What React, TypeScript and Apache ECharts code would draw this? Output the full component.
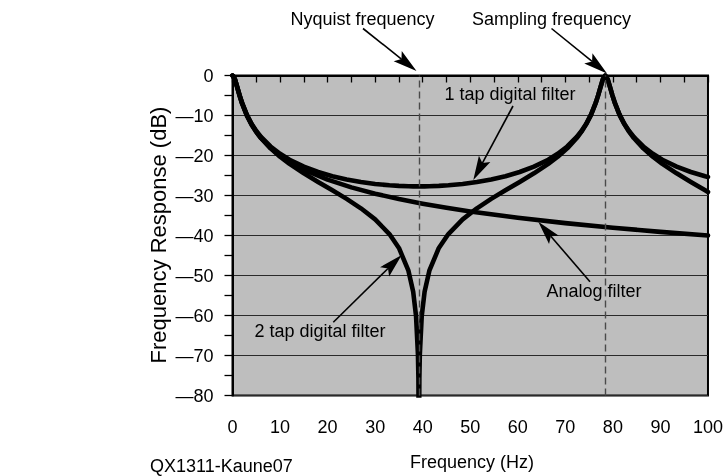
import React, { useEffect, useRef } from "react";
import * as echarts from "echarts";

// Frequencies (Hz) and responses (dB)
const analogFreq = [0, 0.25, 0.5, 0.75, 1, 1.5, 2, 3, 4, 5, 6, 8, 10, 12, 15, 20, 25, 30, 35, 40, 45, 50, 60, 70, 80, 90, 100];
const analogDb = [0, -0.26, -0.97, -1.94, -3.01, -5.12, -6.99, -10.0, -12.3, -14.15, -15.68, -18.13, -20.04, -21.61, -23.54, -26.03, -27.97, -29.55, -30.88, -32.04, -33.07, -33.98, -35.57, -36.9, -38.06, -39.09, -40.0];

const digitalFreq = [
  0, 0.5, 1, 1.5, 2, 3, 4, 5, 6, 8, 10, 12, 15, 18, 21, 24, 27, 30, 33, 35, 37, 38, 38.6, 39, 39.1, 39.2,
  39.3, 39.4, 39.8, 40.4, 41.4, 43.4, 45.4, 48.4, 51.4, 54.4, 57.4, 60.4, 63.4, 66.4, 68.4, 70.4, 72.4, 73.4, 74.4, 75.4, 76.4, 76.9, 77.4, 77.9, 78.4,
  78.9, 79.4, 79.9, 80.4, 81.4, 82.4, 83.4, 84.4, 86.4, 88.4, 90.4, 93.4, 96.4, 99.4, 100,
];
const oneTapDb = [
  0, -0.92, -2.89, -4.96, -6.8, -9.77, -12.05, -13.87, -15.37, -17.75, -19.58, -21.05, -22.78, -24.12, -25.18, -26.0, -26.64, -27.12, -27.45, -27.6, -27.68, -27.71, -27.72, -27.72, -27.72, -27.72,
  -27.72, -27.72, -27.72, -27.71, -27.68, -27.6, -27.45, -27.12, -26.64, -26.0, -25.18, -24.12, -22.78, -21.05, -19.58, -17.75, -15.37, -13.87, -12.05, -9.77, -6.8, -4.96, -2.89, -0.92, 0,
  -0.92, -2.89, -4.96, -6.8, -9.77, -12.05, -13.87, -15.37, -17.75, -19.58, -21.05, -22.78, -24.12, -25.18, -25.36,
];
const twoTapDb = [
  0, -0.93, -2.9, -4.97, -6.83, -9.84, -12.16, -14.05, -15.63, -18.21, -20.3, -22.09, -24.46, -26.61, -28.7, -30.85, -33.2, -35.98, -39.63, -43.11, -48.79, -54.07, -60.1, -69.64, -75.66, -95,
  -75.66, -69.64, -60.1, -54.07, -48.79, -43.11, -39.63, -35.98, -33.2, -30.85, -28.7, -26.61, -24.46, -22.09, -20.3, -18.21, -15.63, -14.05, -12.16, -9.84, -6.83, -4.97, -2.9, -0.93, 0,
  -0.93, -2.9, -4.97, -6.83, -9.84, -12.16, -14.05, -15.63, -18.21, -20.3, -22.09, -24.46, -26.61, -28.7, -29.12,
];

const nyquistHz = 39.2;
const samplingHz = 78.4;

const xTicks = { min: 0, max: 100, step: 10 };
const yTicks = { min: -80, max: 0, step: 10 };

const FONT = '"Liberation Sans", Arial, Helvetica, sans-serif';

function arrow(x1: number, y1: number, x2: number, y2: number, L = 24, w = 6.5) {
  const dx = x2 - x1, dy = y2 - y1;
  const len = Math.hypot(dx, dy);
  const ux = dx / len, uy = dy / len;
  const nx = -uy, ny = ux;
  const bx = x2 - L * ux, by = y2 - L * uy;
  const mx = x2 - L * 0.8 * ux, my = y2 - L * 0.8 * uy;
  return [
    { type: "line", z: 100, shape: { x1, y1, x2: mx, y2: my }, style: { stroke: "#000", lineWidth: 1.6 } },
    {
      type: "polygon",
      z: 100,
      shape: { points: [[x2, y2], [bx + w * nx, by + w * ny], [mx, my], [bx - w * nx, by - w * ny]] },
      style: { fill: "#000" },
    },
  ];
}

function label(text: string, x: number, y: number, size = 18, align = "center", rotation = 0) {
  return {
    type: "text",
    z: 100,
    x,
    y,
    rotation,
    style: {
      text,
      fill: "#000",
      fontSize: size,
      fontFamily: FONT,
      align,
      verticalAlign: "middle",
      textAlign: align,
      textVerticalAlign: "middle",
    },
  };
}

export default function App() {
  const ref = useRef<HTMLDivElement>(null);
  useEffect(() => {
    if (!ref.current) return;
    const chart = echarts.init(ref.current, null, { renderer: "svg" });
    const curve = {
      type: "line",
      showSymbol: false,
      symbol: "none",
      silent: true,
      clip: true,
      lineStyle: { color: "#000", width: 4.6, cap: "round", join: "round" },
    };
    const fmt = (v: number) => (v === 0 ? "0" : "\u2014" + Math.abs(v));
    chart.setOption({
      animation: false,
      textStyle: { fontFamily: FONT },
      grid: {
        left: 232.5,
        right: 13.5,
        top: 75.5,
        bottom: 80.5,
        show: true,
        backgroundColor: "#bebebe",
        borderColor: "#000",
        borderWidth: 2,
      },
      xAxis: {
        type: "value",
        min: xTicks.min,
        max: xTicks.max,
        interval: xTicks.step,
        axisLine: { show: true, lineStyle: { color: "#000", width: 2 } },
        axisTick: { show: true, length: 7, lineStyle: { color: "#000", width: 1.3 } },
        minorTick: { show: true, splitNumber: 2, length: 7, lineStyle: { color: "#000", width: 1.3 } },
        splitLine: { show: false },
        axisLabel: { color: "#000", fontSize: 18, margin: 22, fontFamily: FONT },
      },
      yAxis: {
        type: "value",
        min: yTicks.min,
        max: yTicks.max,
        interval: yTicks.step,
        axisLine: { show: true, lineStyle: { color: "#000", width: 2 } },
        axisTick: { show: true, length: 8, lineStyle: { color: "#000", width: 1.3 } },
        minorTick: { show: true, splitNumber: 2, length: 8, lineStyle: { color: "#000", width: 1.3 } },
        splitLine: { show: true, lineStyle: { color: "#2a2a2a", width: 1.2 } },
        axisLabel: { color: "#000", fontSize: 18, margin: 19, formatter: fmt, fontFamily: FONT },
      },
      series: [
        {
          type: "line",
          data: [],
          silent: true,
          markLine: {
            silent: true,
            symbol: "none",
            label: { show: false },
            lineStyle: { color: "#4a4a4a", width: 1.4, type: [7, 4] },
            data: [{ xAxis: nyquistHz }, { xAxis: samplingHz }],
          },
        },
        { ...curve, name: "Analog filter", data: analogFreq.map((f, i) => [f, analogDb[i]]) },
        { ...curve, name: "1 tap digital filter", data: digitalFreq.map((f, i) => [f, oneTapDb[i]]) },
        { ...curve, name: "2 tap digital filter", data: digitalFreq.map((f, i) => [f, twoTapDb[i]]) },
      ],
      graphic: [
        label("Nyquist frequency", 362.5, 18.5),
        label("Sampling frequency", 551.5, 18.5),
        label("1 tap digital filter", 510, 94),
        label("Analog filter", 594, 291),
        label("2 tap digital filter", 320, 331),
        label("Frequency (Hz)", 472, 462),
        label("QX1311-Kaune07", 150, 466, 18, "left"),
        label("Frequency Response (dB)", 158, 235, 22, "center", Math.PI / 2),
        ...arrow(363, 28.5, 416.5, 71),
        ...arrow(551.5, 28.5, 607, 73.5),
        ...arrow(513, 106, 473.3, 180),
        ...arrow(590, 281.7, 538.3, 221.7),
        ...arrow(333.3, 322.3, 401.7, 255),
      ],
    });
    return () => chart.dispose();
  }, []);
  return <div ref={ref} style={{ position: "fixed", left: 0, top: 0, width: 726, height: 476 }} />;
}
